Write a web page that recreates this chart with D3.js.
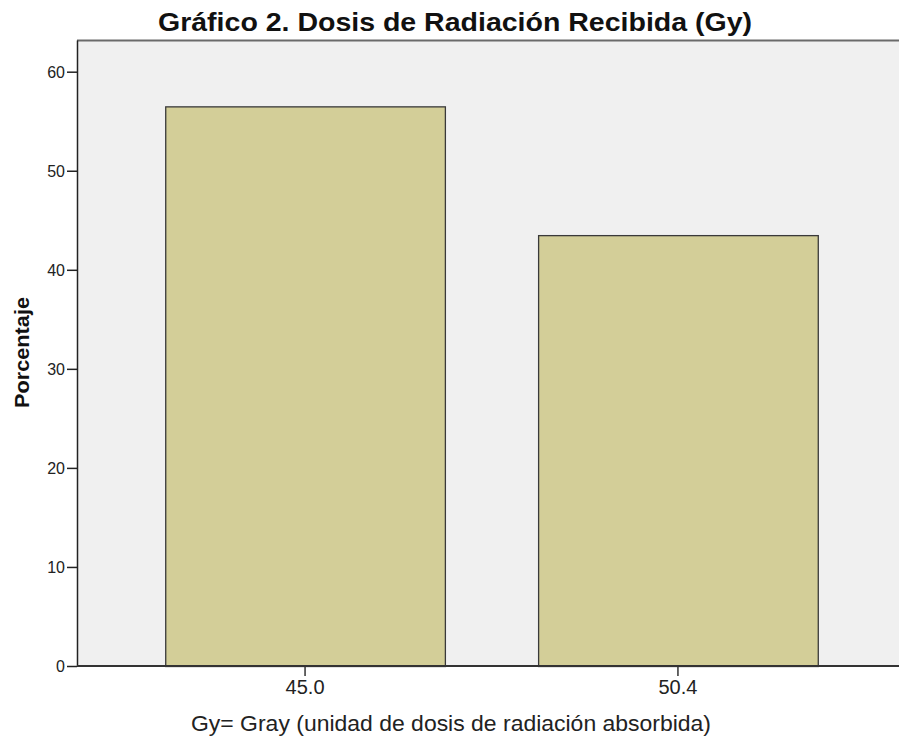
<!DOCTYPE html>
<html><head><meta charset="utf-8">
<script src="https://cdn.jsdelivr.net/npm/d3@7"></script>
<style>body{margin:0;background:#fff}</style>
</head><body>
<script>
const categories = ["45.0", "50.4"];
const values = [56.5, 43.5];
const yTicks = [0, 10, 20, 30, 40, 50, 60];
const titleText = "Gráfico 2. Dosis de Radiación Recibida (Gy)";
const xTitle = "Gy= Gray (unidad de dosis de radiación absorbida)";
const yTitle = "Porcentaje";

const W = 899, H = 742;
const FONT = "Liberation Sans, Arial, sans-serif";
const svg = d3.select("body").append("svg").attr("width", W).attr("height", H);
const plot = {left: 77, top: 40, right: 899, bottom: 666};

const y = d3.scaleLinear().domain([0, 63.2]).range([plot.bottom, plot.top]);
const x = d3.scaleBand().domain(categories).range([72, 911]).paddingInner(0.25).paddingOuter(0.25);

svg.append("rect").attr("x", plot.left).attr("y", plot.top)
  .attr("width", plot.right - plot.left).attr("height", plot.bottom - plot.top)
  .attr("fill", "#f0f0f0");
svg.append("line").attr("x1", plot.left).attr("x2", plot.right).attr("y1", plot.top + 0.5).attr("y2", plot.top + 0.5)
  .attr("stroke", "#6a6a6a").attr("stroke-width", 2);

svg.selectAll("rect.bar").data(values).join("rect").attr("class", "bar")
  .attr("x", (d, i) => x(categories[i]) + 0.5)
  .attr("y", d => y(d) + 0.5)
  .attr("width", x.bandwidth())
  .attr("height", d => plot.bottom - y(d))
  .attr("fill", "#d3ce98").attr("stroke", "#3a3a3a").attr("stroke-width", 1.3);

const yAxis = d3.axisLeft(y).tickValues(yTicks).tickSize(10).tickSizeOuter(0).tickPadding(2).tickFormat(d3.format("d"));
const gy = svg.append("g").attr("transform", `translate(${plot.left},0)`).call(yAxis);
gy.select(".domain").attr("stroke", "#222").attr("stroke-width", 1.5);
gy.selectAll(".tick line").attr("stroke", "#222").attr("stroke-width", 1.5);
gy.selectAll(".tick text").attr("font-family", FONT).attr("font-size", 16).attr("fill", "#222").attr("dy", "0.36em");

const xAxis = d3.axisBottom(x).tickSize(10).tickPadding(4).tickSizeOuter(0);
const gx = svg.append("g").attr("transform", `translate(0,${plot.bottom})`).call(xAxis);
gx.select(".domain").attr("d", `M${plot.left},0H${plot.right}`).attr("stroke", "#333").attr("stroke-width", 2);
gx.selectAll(".tick line").attr("stroke", "#333").attr("stroke-width", 1.5);
gx.selectAll(".tick text").attr("font-family", FONT).attr("font-size", 20).attr("fill", "#222");

svg.append("text").attr("x", 451).attr("y", 731).attr("text-anchor", "middle")
  .attr("font-family", FONT).attr("font-size", 22).attr("fill", "#222")
  .attr("textLength", 520).attr("lengthAdjust", "spacingAndGlyphs").text(xTitle);

svg.append("text").attr("transform", "translate(29,352.5) rotate(-90)").attr("text-anchor", "middle")
  .attr("font-family", FONT).attr("font-weight", "bold").attr("font-size", 21).attr("fill", "#111")
  .attr("textLength", 111).attr("lengthAdjust", "spacingAndGlyphs").text(yTitle);

svg.append("text").attr("x", 455).attr("y", 31).attr("text-anchor", "middle")
  .attr("font-family", FONT).attr("font-weight", "bold").attr("font-size", 25).attr("fill", "#111")
  .attr("textLength", 594).attr("lengthAdjust", "spacingAndGlyphs").text(titleText);
</script>
</body></html>
